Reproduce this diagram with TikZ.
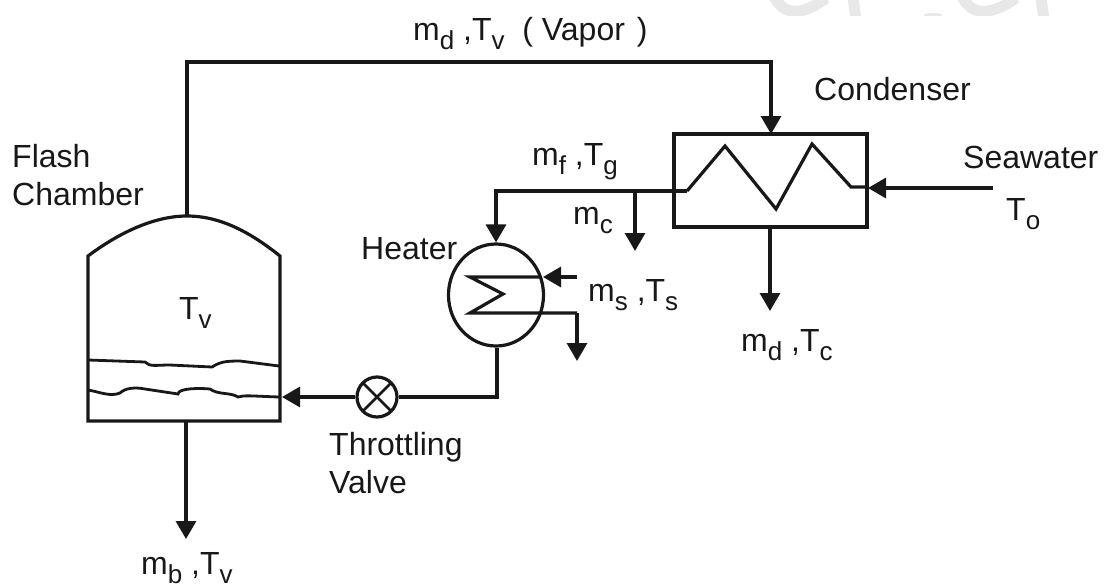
\documentclass[tikz,border=0pt]{standalone}
\usepackage{fontspec}
\setmainfont{Liberation Sans}
\usetikzlibrary{arrows.meta,shapes.geometric}
\definecolor{ink}{HTML}{1A1718}
\tikzset{
  line/.style={draw=ink,line width=3.2pt},
  thinline/.style={draw=ink,line width=2.8pt},
  flow/.style={line,-{Triangle[length=18pt,width=20pt]}},
  txt/.style={font=\fontsize{32}{34}\selectfont,text=ink,inner sep=0pt,anchor=base west},
  mark water/.style={draw=black!9,line width=11pt}
}
\newcommand{\sbs}[1]{\raisebox{-9pt}{\fontsize{26}{27}\selectfont #1}}
\begin{document}
\begin{tikzpicture}[x=1pt,y=-1pt]
\useasboundingbox (0,0) rectangle (1104,587);
% faint watermark at the top edge
\begin{scope}
\clip (700,0) rectangle (1104,15);
\draw[mark water] (774,-4) .. controls (782,14) and (800,18) .. (826,-2);
\draw[mark water] (853,-2) -- (856,20);
\draw[mark water] (962,-4) .. controls (970,14) and (988,18) .. (1016,-2);
\draw[mark water] (1041,-2) -- (1044,20);
\fill[black!9] (933,15) ellipse (9pt and 2pt);
\end{scope}
% flash chamber
\coordinate (ftop) at (187,216);
\draw[line] (88,256) .. controls (120,232) and (155,216) .. (ftop) .. controls (220,216) and (250,232) .. (280,256) -- (280,421) -- (88,421) -- cycle;
\draw[thinline] (88,360) -- (145,362) .. controls (150,367) and (155,365) .. (170,365) -- (212,367) .. controls (220,362) and (225,361) .. (240,361) -- (279,366);
\draw[thinline] (88,390) .. controls (100,392) and (110,397) .. (120,393) .. controls (125,388) and (135,387) .. (145,389) -- (178,394) .. controls (178,388) and (200,388) .. (210,389) .. controls (218,395) and (230,392) .. (238,397) .. controls (245,395) and (250,396) .. (279,397);
% condenser
\draw[line] (674,134) rectangle (867,227);
\coordinate (cl) at (687,191);
\coordinate (cr) at (867,187);
\draw[line,line join=miter] (cl) -- (725,146) -- (776,209) -- (812,144) -- (851,187) -- (cr);
% heater
\node[ellipse,draw=ink,line width=3.2pt,minimum width=95pt,minimum height=102pt,inner sep=0pt] (heat) at (496,295) {};
\coordinate (cin) at (540,277);
\coordinate (hout) at (577,313);
\draw[line,line join=miter] (cin) -- (470,277) -- (503,294) -- (470,313) -- (hout);
% valve
\node[circle,draw=ink,line width=3.2pt,minimum size=40pt,inner sep=0pt,
  path picture={\draw[ink,line width=2.8pt] (path picture bounding box.north west)--(path picture bounding box.south east) (path picture bounding box.north east)--(path picture bounding box.south west);}] (valve) at (377,397) {};
% coords
\coordinate (vapor) at (187,62);
\coordinate (vapor2) at (771,62);
\coordinate (ctop) at (771,134);
\coordinate (m1) at (635,191);
\coordinate (m1e) at (635,251);
\coordinate (h1) at (496,191);
\coordinate (cb) at (770,227);
\coordinate (cbe) at (770,311);
\coordinate (sea) at (993,188);
\coordinate (sea2) at (868,188);
\coordinate (ss) at (577,277);
\coordinate (ss2) at (543,277);
\coordinate (houte) at (577,361);
\coordinate (hb2) at (497,397);
\coordinate (fin) at (282,397);
\coordinate (fb) at (186,421);
\coordinate (fbe) at (186,539);
% connectors
\draw[flow] (ftop) -- (vapor) -- (vapor2) -- (ctop);
\draw[flow] (cl) -- (h1) -- (heat.north);
\draw[flow] (m1) -- (m1e);
\draw[flow] (cb) -- (cbe);
\draw[flow] (sea) -- (sea2);
\draw[flow] (ss) -- (ss2);
\draw[flow] (hout) -- (houte);
\draw[line] (heat.south -| hb2) -- (hb2) -- (valve.east);
\draw[flow] (valve.west) -- (fin);
\draw[flow] (fb) -- (fbe);
% labels
\node[txt] (t1) at (413,40) {m\sbs{d} ,T\sbs{v}\ \ ( Vapor\hspace{3pt} )};
\node[txt] (t2) at (814,100) {Condenser};
\node[txt] (t3) at (963,168) {Seawater};
\node[txt] (t4) at (1006,220) {T\sbs{o}};
\node[txt] (t5) at (12,167) {Flash};
\node[txt] (t6) at (12,205) {Chamber};
\node[txt] (t7) at (532,165) {m\sbs{f} ,T\sbs{g}};
\node[txt] (t8) at (573,224) {m\sbs{c}};
\node[txt] (t9) at (361,259) {Heater};
\node[txt] (t10) at (588,301) {m\sbs{s} ,T\sbs{s}};
\node[txt] (t11) at (741,351) {m\sbs{d} ,T\sbs{c}};
\node[txt] (t12) at (179,319) {T\sbs{v}};
\node[txt] (t13) at (329,455) {Throttling};
\node[txt] (t14) at (329,493) {Valve};
\node[txt] (t15) at (141,574) {m\sbs{b} ,T\sbs{v}};
\end{tikzpicture}
\end{document}
